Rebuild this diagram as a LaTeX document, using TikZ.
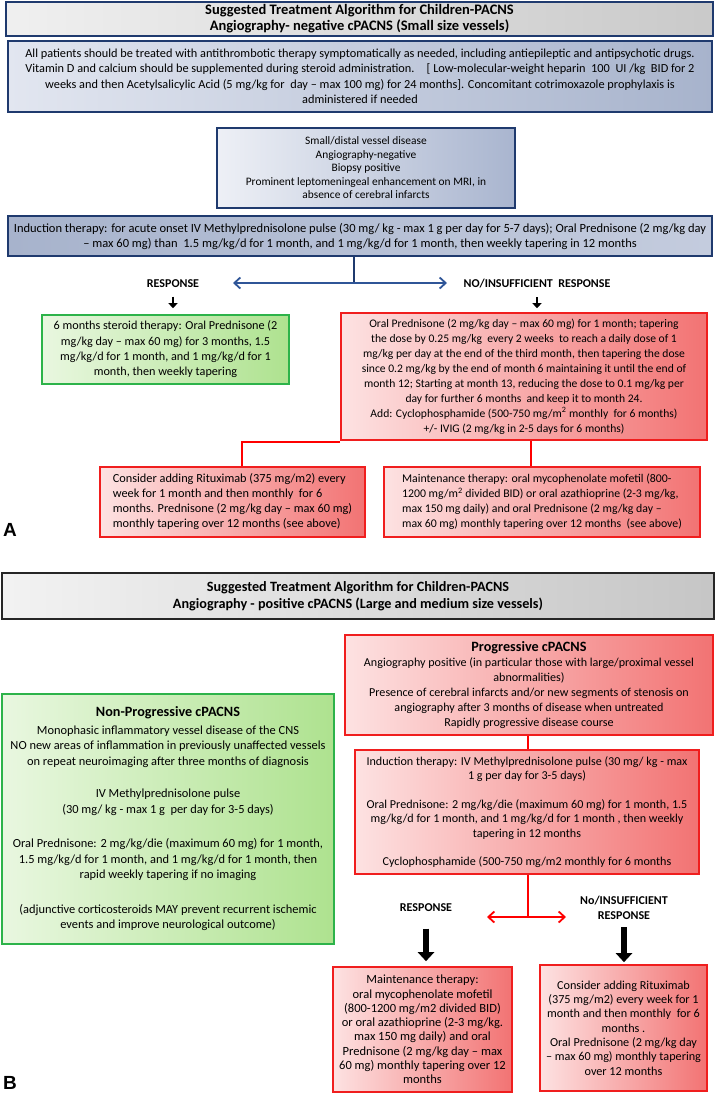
\documentclass[tikz,border=0pt]{standalone}
\usepackage{fontspec}
\setmainfont{Carlito}
\newfontfamily\labfont{Liberation Sans}
\usetikzlibrary{arrows.meta}

\definecolor{navy}{HTML}{1F3A6E}
\definecolor{blueA}{HTML}{E2E6F0}
\definecolor{blueB}{HTML}{A7B3CC}
\definecolor{blueC}{HTML}{A9B5CF}
\definecolor{blueD}{HTML}{C4CCDE}
\definecolor{arrblue}{HTML}{2F5597}
\definecolor{grnline}{HTML}{2DB34A}
\definecolor{grnA}{HTML}{E9F7E0}
\definecolor{grnB}{HTML}{AEE28F}
\definecolor{redline}{HTML}{F01E1E}
\definecolor{redA}{HTML}{FDE2E2}
\definecolor{redB}{HTML}{F27373}

\begin{document}
\begin{tikzpicture}[x=1pt,y=-1pt,
  box/.style={line width=1.6pt,align=center,inner sep=2pt,
    font=\fontsize{12}{15}\selectfont},
  bluebox/.style={box,draw=navy,left color=blueA,right color=blueB},
  greybox/.style={box,draw=navy,left color=gray!12,right color=gray!42,
    font=\fontsize{14.5}{16}\selectfont\bfseries},
  greenbox/.style={box,draw=grnline,left color=grnA,right color=grnB},
  redbox/.style={box,draw=redline,left color=redA,right color=redB},
  resp/.style={align=center,font=\fontsize{12}{15}\selectfont\bfseries},
  redconn/.style={draw=red,line width=1.8pt},
  smalldown/.style={line width=2.6pt,-{Triangle[length=5pt,width=9pt]}},
  bigdown/.style={line width=6.5pt,-{Triangle[length=9pt,width=16pt]}},
  panel/.style={font=\labfont\fontsize{19}{20}\selectfont\bfseries}
  ]
\useasboundingbox (0,0) rectangle (719,1096);

% panel A
\node[greybox,minimum width=707pt,minimum height=34pt] (ttlA) at (359.5,19)
  {Suggested Treatment Algorithm for Children-PACNS\\Angiography- negative cPACNS (Small size vessels)};
\node[bluebox,minimum width=704pt,minimum height=71pt,
  font=\fontsize{12.3}{15.5}\selectfont] (allpat) at (360,76.5)
  {All patients should be treated with antithrombotic therapy symptomatically as needed, including antiepileptic and antipsychotic drugs.\\
   Vitamin D and calcium should be supplemented during steroid administration.\quad [ Low-molecular-weight heparin\ \ 100\ \ UI /kg\ \ BID for 2\\
   weeks and then Acetylsalicylic Acid (5 mg/kg for\ \ day -- max 100 mg) for 24 months]. Concomitant cotrimoxazole prophylaxis is\\
   administered if needed};
\node[bluebox,left color=blueA!60!white,right color=blueC,minimum width=298pt,minimum height=80pt,
  font=\fontsize{11.4}{13.5}\selectfont] (smallv) at (366,168)
  {Small/distal vessel disease\\Angiography-negative\\Biopsy positive\\
   Prominent leptomeningeal enhancement on MRI, in\\absence of cerebral infarcts};
\node[bluebox,left color=blueB,right color=blueD,minimum width=704pt,minimum height=40pt,
  font=\fontsize{12.5}{15}\selectfont] (indA) at (360,236)
  {Induction therapy: for acute onset IV Methylprednisolone pulse (30 mg/ kg - max 1 g per day for 5-7 days); Oral Prednisone (2 mg/kg day\\
   -- max 60 mg) than\ \ 1.5 mg/kg/d for 1 month, and 1 mg/kg/d for 1 month, then weekly tapering in 12 months};

\coordinate (jA) at (354,283);
\coordinate (aL) at (233,283);
\coordinate (aR) at (447,283);
\draw[navy,line width=1.8pt] (jA |- indA.south) -- (jA);
\draw[arrblue,line width=1.8pt,{Straight Barb[length=6pt,width=11pt]}-{Straight Barb[length=6pt,width=11pt]}] (aL) -- (aR);

\node[resp] (respA) at (173,284) {RESPONSE};
\node[resp] (noresA) at (537,284) {NO/INSUFFICIENT\ \ RESPONSE};

\node[greenbox,minimum width=247pt,minimum height=69pt,font=\fontsize{12.2}{15.3}\selectfont] (grnA) at (165.5,349.5)
  {6 months steroid therapy: Oral Prednisone (2\\mg/kg day -- max 60 mg) for 3 months, 1.5\\
   mg/kg/d for 1 month, and 1 mg/kg/d for 1\\month, then weekly tapering};
\node[redbox,minimum width=366pt,minimum height=127pt,font=\fontsize{11.6}{15}\selectfont] (bigA) at (524,376.5)
  {Oral Prednisone (2 mg/kg day -- max 60 mg) for 1 month; tapering\\
   the dose by 0.25 mg/kg\ \ every 2 weeks\ \ to reach a daily dose of 1\\
   mg/kg per day at the end of the third month, then tapering the dose\\
   since 0.2 mg/kg by the end of month 6 maintaining it until the end of\\
   month 12; Starting at month 13, reducing the dose to 0.1 mg/kg per\\
   day for further 6 months\ \ and keep it to month 24.\\
   Add: Cyclophosphamide (500-750 mg/m\textsuperscript{2} monthly\ \ for 6 months)\\
   +/- IVIG (2 mg/kg in 2-5 days for 6 months)};

\draw[smalldown,shorten <=5pt,shorten >=6pt] (respA.south) -- (respA.south |- grnA.north);
\draw[smalldown,shorten <=5pt,shorten >=4pt] (noresA.south) -- (noresA.south |- bigA.north);

\node[redbox,align=left,minimum width=265pt,minimum height=70pt,font=\fontsize{12.3}{15}\selectfont] (ritA) at (232.5,502)
  {Consider adding Rituximab (375 mg/m2) every\\week for 1 month and then monthly\ \ for 6\\
   months. Prednisone (2 mg/kg day -- max 60 mg)\\monthly tapering over 12 months (see above)};
\node[redbox,align=left,minimum width=316pt,minimum height=70pt,font=\fontsize{11.8}{15}\selectfont] (maintA) at (542,502)
  {Maintenance therapy: oral mycophenolate mofetil (800-\\
   1200 mg/m\textsuperscript{2} divided BID) or oral azathioprine (2-3 mg/kg,\\
   max 150 mg daily) and oral Prednisone (2 mg/kg day --\\
   max 60 mg) monthly tapering over 12 months\ \ (see above)};

\coordinate (kA) at (242,442);
\coordinate (mA) at (531,442);
\draw[redconn] (mA |- bigA.south) -- (mA |- maintA.north);
\draw[redconn] (bigA.south west |- kA) -| (kA |- ritA.north);

\node[panel] (labA) at (10,530) {A};

% panel B
\node[box,draw=black!85,left color=gray!10,right color=gray!45,minimum width=712pt,minimum height=46pt,
  font=\fontsize{14.2}{17}\selectfont\bfseries] (ttlB) at (358,596)
  {Suggested Treatment Algorithm for Children-PACNS\\Angiography - positive cPACNS (Large and medium size vessels)};
\node[redbox,minimum width=368pt,minimum height=100pt,font=\fontsize{12.1}{15}\selectfont] (progB) at (529,685)
  {{\fontsize{14.2}{15}\selectfont\bfseries Progressive cPACNS}\\
   Angiography positive (in particular those with large/proximal vessel\\abnormalities)\\
   Presence of cerebral infarcts and/or new segments of stenosis on\\
   angiography after 3 months of disease when untreated\\Rapidly progressive disease course};
\node[greenbox,minimum width=332pt,minimum height=250pt,font=\fontsize{12.4}{15.5}\selectfont] (grnB) at (168,819)
  {{\fontsize{14.2}{15}\selectfont\bfseries Non-Progressive cPACNS}\\[2pt]
   Monophasic inflammatory vessel disease of the CNS\\
   NO new areas of inflammation in previously unaffected vessels\\
   on repeat neuroimaging after three months of diagnosis\\[17pt]
   IV Methylprednisolone pulse\\(30 mg/ kg - max 1 g\ \ per day for 3-5 days)\\[19pt]
   Oral Prednisone: 2 mg/kg/die (maximum 60 mg) for 1 month,\\
   1.5 mg/kg/d for 1 month, and 1 mg/kg/d for 1 month, then\\
   rapid weekly tapering if no imaging\\[19pt]
   (adjunctive corticosteroids MAY prevent recurrent ischemic\\events and improve neurological outcome)};
\node[redbox,minimum width=344pt,minimum height=124pt,font=\fontsize{12.1}{14.5}\selectfont] (indB) at (527,812)
  {Induction therapy: IV Methylprednisolone pulse (30 mg/ kg - max\\1 g per day for 3-5 days)\\[14pt]
   Oral Prednisone: 2 mg/kg/die (maximum 60 mg) for 1 month, 1.5\\
   mg/kg/d for 1 month, and 1 mg/kg/d for 1 month , then weekly\\tapering in 12 months\\[14pt]
   Cyclophosphamide (500-750 mg/m2 monthly for 6 months};

\coordinate (jB) at (528,917);
\coordinate (bL) at (487,917);
\coordinate (bR) at (566,917);
\draw[redconn] (jB |- progB.south) -- (jB |- indB.north);
\draw[redconn] (jB |- indB.south) -- (jB);
\draw[red,line width=1.8pt,{Straight Barb[length=6pt,width=11pt]}-{Straight Barb[length=6pt,width=11pt]}] (bL) -- (bR);

\node[resp] (respB) at (426,908) {RESPONSE};
\node[resp] (noresB) at (624,908) {No/INSUFFICIENT\\RESPONSE};

\node[redbox,minimum width=179pt,minimum height=125pt,font=\fontsize{12.5}{14.3}\selectfont] (maintB) at (422.5,1029.5)
  {Maintenance therapy:\\oral mycophenolate mofetil\\(800-1200 mg/m2 divided BID)\\
   or oral azathioprine (2-3 mg/kg.\\max 150 mg daily) and oral\\Prednisone (2 mg/kg day -- max\\
   60 mg) monthly tapering over 12\\months};
\node[redbox,minimum width=167pt,minimum height=126pt,font=\fontsize{12.2}{14.3}\selectfont] (ritB) at (623.5,1028)
  {Consider adding Rituximab\\(375 mg/m2) every week for 1\\month and then monthly\ \ for 6\\months .\\
   Oral Prednisone (2 mg/kg day\\-- max 60 mg) monthly tapering\\over 12 months};

\draw[bigdown,shorten <=13pt,shorten >=5pt] (respB.south) -- (respB.south |- maintB.north);
\draw[bigdown,shorten <=4pt,shorten >=2pt] (noresB.south) -- (noresB.south |- ritB.north);

\node[panel] (labB) at (10,1083) {B};
\end{tikzpicture}
\end{document}
